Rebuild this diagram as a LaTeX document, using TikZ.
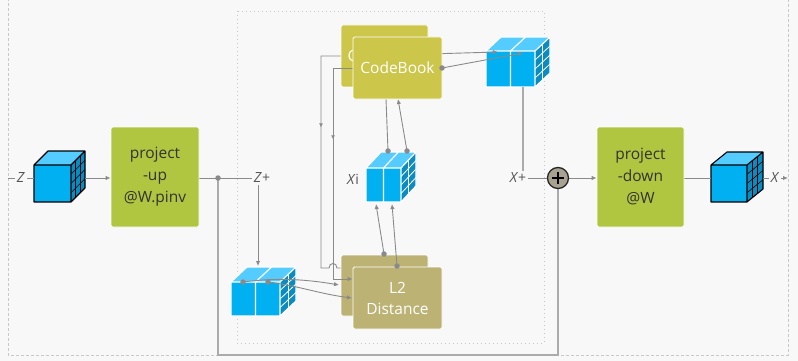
\documentclass[tikz,border=0pt]{standalone}
\usepackage{fontspec}
\setmainfont{Open Sans}
\usetikzlibrary{arrows.meta,calc,decorations.markings}
\definecolor{bgc}{HTML}{F8F8F8}
\definecolor{pgreen}{HTML}{B0C540}
\definecolor{cbk}{HTML}{CCC64B}
\definecolor{ltwo}{HTML}{BCB274}
\definecolor{cfront}{HTML}{00B0F0}
\definecolor{ctop}{HTML}{55CCFF}
\definecolor{cside}{HTML}{0A8CC0}
\definecolor{lgray}{HTML}{8A8A8A}
\definecolor{tgray}{HTML}{ABABAB}
\definecolor{plusc}{HTML}{A8A290}
\definecolor{labc}{HTML}{555555}
\definecolor{txtc}{HTML}{333333}
\definecolor{framec}{HTML}{C8C8C8}
\pgfdeclarelayer{bgl}\pgfdeclarelayer{backl}\pgfdeclarelayer{frontl}
\pgfsetlayers{bgl,backl,main,frontl}
\tikzset{
  conn/.style={draw=lgray, line width=0.9pt},
  arr/.style={conn, -{Latex[length=5pt,width=4.5pt]}},
  fbline/.style={draw=tgray, line width=1.6pt},
  midarr/.style={postaction={decorate}, decoration={markings, mark=at position 91pt with {\arrow[lgray]{Latex[length=4pt,width=4pt]}}}},
  box/.style={draw=white, line width=0.8pt, rounded corners=1.5pt, inner sep=0, align=center},
  pbox/.style={box, fill=pgreen, text=txtc, minimum width=88pt, minimum height=100pt, font=\fontsize{15.5}{22}\selectfont},
  cbbox/.style={box, fill=cbk, text=white, minimum width=88pt, minimum height=62pt, font=\fontsize{15.5}{20}\selectfont},
  l2box/.style={box, fill=ltwo, text=white, minimum width=88pt, minimum height=62pt, font=\fontsize{15.5}{21}\selectfont},
  lab/.style={fill=bgc, inner sep=1.5pt, text=labc, font=\fontsize{14}{16}\selectfont},
  dotn/.style={circle, fill=lgray, inner sep=0, minimum size=5.5pt},
  plusnode/.style={circle, draw=black!85, line width=1.3pt, fill=plusc, minimum size=21pt, inner sep=0,
    path picture={\draw[black, line width=1.5pt] ([xshift=-6pt]path picture bounding box.center) -- ([xshift=6pt]path picture bounding box.center) ([yshift=-6pt]path picture bounding box.center) -- ([yshift=6pt]path picture bounding box.center);}},
  outerframe/.style={draw=framec, line width=0.8pt, dash pattern=on 3pt off 2pt},
  innerframe/.style={draw=framec, line width=0.7pt, dash pattern=on 1pt off 3pt}
}
% cube helper: #1 name, #2 x, #3 y (front top-left), #4 w, #5 h, #6 dx, #7 dy
\newcommand\cubebase[7]{%
  \pgfmathsetmacro\cXa{#2}\pgfmathsetmacro\cYa{#3}%
  \pgfmathsetmacro\cXb{#2+#4}\pgfmathsetmacro\cYb{#3+#5}%
  \pgfmathsetmacro\cXc{#2+#6}\pgfmathsetmacro\cXd{#2+#4+#6}%
  \pgfmathsetmacro\cYc{#3-#7}\pgfmathsetmacro\cYd{#3+#5-#7}%
  \node[inner sep=0, outer sep=0, minimum width=#4pt, minimum height=#5pt, anchor=north west] (#1) at (\cXa,\cYa) {};
  \fill[cfront] (\cXa,\cYa) rectangle (\cXb,\cYb);
  \fill[ctop] (\cXa,\cYa) -- (\cXc,\cYc) -- (\cXd,\cYc) -- (\cXb,\cYa) -- cycle;
  \fill[cside] (\cXb,\cYa) -- (\cXd,\cYc) -- (\cXd,\cYd) -- (\cXb,\cYb) -- cycle;
}
\newcommand\solidcube[7]{%
  \cubebase{#1}{#2}{#3}{#4}{#5}{#6}{#7}%
  \foreach \i in {1,2} {\draw[black, line width=0.6pt] (\cXb+\i/3*#6, \cYa-\i/3*#7) -- (\cXb+\i/3*#6, \cYb-\i/3*#7);}
  \foreach \j in {1,2,3} {\draw[black, line width=0.6pt] (\cXb, \cYa+\j/4*#5) -- (\cXd, \cYc+\j/4*#5);}
  \draw[black, line width=1.1pt, line join=round] (\cXa,\cYa) rectangle (\cXb,\cYb)
     (\cXa,\cYa) -- (\cXc,\cYc) -- (\cXd,\cYc) -- (\cXb,\cYa)
     (\cXd,\cYc) -- (\cXd,\cYd) -- (\cXb,\cYb);
}
\newcommand\splitcube[7]{%
  \cubebase{#1}{#2}{#3}{#4}{#5}{#6}{#7}%
  \pgfmathsetmacro\cXm{#2+#4/2}\pgfmathsetmacro\cXn{#2+#4/2+#6}%
  \draw[white, line width=0.8pt] (\cXb+1/2*#6, \cYa-1/2*#7) -- (\cXb+1/2*#6, \cYb-1/2*#7);
  \foreach \j in {1,2,3} {\draw[white, line width=0.8pt] (\cXb, \cYa+\j/4*#5) -- (\cXd, \cYc+\j/4*#5);}
  \draw[white, line width=1.2pt, line join=round] (\cXa,\cYa) rectangle (\cXb,\cYb)
     (\cXa,\cYa) -- (\cXc,\cYc) -- (\cXd,\cYc) -- (\cXb,\cYa)
     (\cXd,\cYc) -- (\cXd,\cYd) -- (\cXb,\cYb)
     (\cXm,\cYb) -- (\cXm,\cYa) -- (\cXn,\cYc);
}
\begin{document}
\begin{tikzpicture}[x=1pt,y=-1pt]
\useasboundingbox (0,0) rectangle (798,361);
\begin{pgfonlayer}{bgl}
  \fill[bgc] (0,0) rectangle (798,361);
  \draw[outerframe] (8,-2) -- (8,355) -- (788,355) -- (788,-2);
  \draw[innerframe] (237,11) rectangle (544,343);
\end{pgfonlayer}

\begin{pgfonlayer}{backl}
  \solidcube{zc}{34}{165}{37}{37}{14}{14}
  \solidcube{xc}{711}{165}{36}{37}{16}{13}
  \splitcube{trc}{486}{51}{49}{36}{15}{14}
  \splitcube{xic}{366}{168}{35}{34}{15}{16}
  \splitcube{blc}{231}{282}{49}{34}{16}{15}
  \node[cbbox, minimum width=87pt] (cbB) at (384.5,56) {};
  \node[text=white, inner sep=0, anchor=west, font=\fontsize{15.5}{20}\selectfont] (cbBt) at (347.5,56) {C};
  \node[l2box, minimum width=87pt, minimum height=61pt] (l2B) at (384.5,285.5) {};
\end{pgfonlayer}

\begin{pgfonlayer}{frontl}
  \node[pbox] (pu) at (155,177) {project\\-up\\@W.pinv};
  \node[pbox, minimum width=87pt] (pd) at (640.5,177) {project\\-down\\@W};
  \node[cbbox, minimum width=89pt] (cbF) at (397.5,68) {CodeBook};
  \node[l2box, minimum width=89pt] (l2F) at (397.5,298) {L2\\Distance};
  \node[plusnode] (plus) at (558,178) {};
  \node[lab] (Zl) at (21,178) {\textit{Z}};
  \node[lab] (Zp) at (262,178) {\textit{Z}+};
  \node[lab] (Xp) at (518,178) {\textit{X}+};
  \node[lab] (Xl) at (775,178) {\textit{X}};
  \node[lab, fill=none] (Xil) at (353,179) {\textit{X}i};
\end{pgfonlayer}

% named coordinates
\coordinate (zin) at (8,178);
\coordinate (xout) at (788,178);
\coordinate (zce) at (85,178);
\coordinate (xce) at (763,178);
\coordinate (sp) at (218,178);
\coordinate (blcin) at (258,266);
\coordinate (fbc) at (400,355);
\coordinate (trcout) at (523,87);
\coordinate (cbBe) at (428,54);
\coordinate (trcin1) at (498,52);
\coordinate (cbFe) at (442,68);
\coordinate (trcin2) at (523,53);
\coordinate (vl1) at (321,268);
\coordinate (hop1) at (329,268);
\coordinate (hop2) at (337,268);
\coordinate (vl2) at (333,279);
\coordinate (cbFs1) at (386,99);
\coordinate (cbFs2) at (398,99);
\coordinate (xid1) at (388,151);
\coordinate (xid2) at (407,151);
\coordinate (l2d1) at (384,254);
\coordinate (l2d2) at (397,266);
\coordinate (xib1) at (376,204);
\coordinate (xib2) at (392,204);
\coordinate (bld1) at (243,282);
\coordinate (bld2) at (268,282);
\coordinate (l2in1) at (339,285);
\coordinate (l2in2) at (352,298);

% main flow
\draw[conn] (zin) -- (Zl.west);
\draw[conn] (Zl.east) -- (Zl.east -| zc.west);
\draw[arr] (zce) -- (zce -| pu.west);
\draw[conn] (sp -| pu.east) -- (Zp.west);
\draw[arr] (Zp.south -| blcin) -- (blcin);
\draw[fbline] (sp) -- (sp |- fbc) -- (plus |- fbc) -- (plus.south);
\draw[fbline] (trcout) -- (trcout |- Xp.north);
\draw[conn] (Xp.east) -- (plus.west);
\draw[arr] (plus.east) -- (plus.east -| pd.west);
\draw[conn] (xce -| pd.east) -- (xce -| xc.west);
\draw[conn] (xce) -- (Xl.west);
\draw[arr] (Xl.east) -- (xout);

% codebook area
\draw[arr] (cbBe) -- (trcin1);
\draw[arr] (cbFe) -- (trcin2);
\draw[conn, midarr] (cbB.west) -- (cbB.west -| vl1) -- (vl1) -- (hop1) .. controls (329,262) and (337,262) .. (hop2) -- (hop2 -| l2B.west);
\draw[arr, midarr] (cbF.west) -- (cbF.west -| vl2) -- (vl2) -- (vl2 -| l2F.west);
\draw[conn] (cbFs1) -- (xid1);
\draw[arr] (xid2) -- (cbFs2);
\draw[arr] (l2d1) -- (xib1);
\draw[arr] (l2d2) -- (xib2);
\draw[arr] (bld1) .. controls (280,277) and (310,280) .. (l2in1);
\draw[arr] (bld2) .. controls (295,285) and (320,294) .. (l2in2);

\begin{pgfonlayer}{frontl}
  \node[dotn] (dsp) at (sp) {};
  \node[dotn] (dcb) at (cbFe) {};
  \node[dotn] (dx1) at (xid1) {};
  \node[dotn] (dx2) at (xid2) {};
  \node[dotn] (dl1) at (l2d1) {};
  \node[dotn] (dl2) at (l2d2) {};
  \node[dotn] (db1) at (bld1) {};
  \node[dotn] (db2) at (bld2) {};
\end{pgfonlayer}
\end{tikzpicture}
\end{document}
